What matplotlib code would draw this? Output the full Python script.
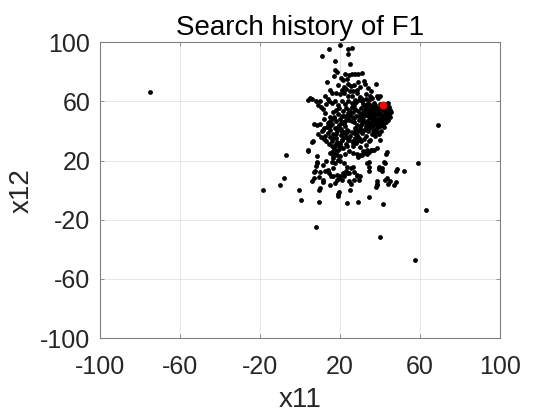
import numpy as np
import matplotlib
matplotlib.use("Agg")
import matplotlib.pyplot as plt

plt.rcParams['font.family'] = ['Liberation Sans', 'DejaVu Sans']
plt.rcParams['axes.unicode_minus'] = False

# --- data (x11, x12) ---
outlier_pts = [
    (-75, 66.5), (68.8, 44), (58.8, 18.7), (63, -13.5), (57.7, -47.5), (40, -31.5),
    (8.2, -25), (-18.6, 0), (-9.8, 3.8), (-8.2, 8.4), (-6.8, 23.5), (-0.3, 0),
    (0.4, -6.5), (9.4, -7.7), (9.5, 0), (9.8, 1.8), (23.3, -9), (29, -7.7),
    (34.6, -4.5), (41.5, -9.5), (19, -2.5), (19.2, -4), (25, 0.2), (38, 2.2),
    (38.5, 4.5), (44, 4.5), (47, 3.8), (48, 13.3), (52, 13), (43, 24.5),
    (42.5, 18.3), (39.5, 14), (40.8, 14.8), (41.2, 12.8), (42.5, 7.2), (34.3, 13),
    (33.5, 18.5), (4, 26.5), (6, 32.3), (6.2, 6.5), (7.1, 12), (8, 16.5),
    (8.4, 19), (10, 12), (11.4, 5.2), (15, 3.6),
]

top_pts = [
    (20, 98.5), (14.5, 95.5), (11, 91), (24, 95.5), (26, 96.5), (24, 92),
    (17.5, 87.5), (25, 85.5), (17.5, 81), (18.5, 80), (17, 77), (22.5, 78.5),
    (24.5, 78), (26, 78.5), (27.5, 78.5), (29, 78.5), (31, 79), (13.5, 73.5),
    (20.5, 76), (21.5, 74.5), (23.5, 75), (32, 74), (32.5, 71.5), (34, 69),
    (38, 71.5), (24, 72), (25.5, 70.5), (22, 70), (26.5, 67), (28.5, 68),
    (15, 68), (16, 66), (18, 65.5), (20, 65), (22, 66), (24, 64), (26, 63.5),
    (28.5, 66), (30, 63), (31, 62), (35, 64), (36, 62.5), (33, 65), (38.5, 64),
    (39, 62.5), (40, 63.5), (19, 71), (21, 68), (27, 71), (30, 70), (12.5, 64),
    (14, 62), (35.5, 67), (29, 73), (23, 68.5), (25, 67),
]

upper_left_pts = [
    (3.8, 61), (4.8, 62.5), (6.2, 61.8), (8.1, 60.5), (9.9, 60.1), (10.6, 56.2),
    (9.2, 57.5), (11.6, 55), (12.3, 52.3), (13.2, 58.1), (14.6, 60.2), (16.2, 58.7),
    (17.6, 60.6), (19.1, 57.3), (20.9, 60.2), (22.4, 58.6), (24.1, 60.4),
    (25.8, 58.9), (27.3, 61.2), (30.8, 60.5), (32.9, 61.4), (34.4, 60.8),
]

blob_pts = [
    (28.5, 44.2), (29.3, 47.8), (29.8, 51.5), (30.2, 42.1), (30.6, 55.3), (31.1, 45.6),
    (31.5, 49.2), (31.9, 53.4), (32.2, 40.8), (32.6, 57.1), (33.0, 43.7), (33.4, 47.0),
    (33.7, 50.6), (34.1, 54.8), (34.5, 41.9), (34.8, 45.3), (35.2, 48.7), (35.5, 52.2),
    (35.9, 56.4), (36.2, 43.4), (36.6, 46.5), (37.0, 50.1), (37.3, 53.6), (37.7, 57.8),
    (38.0, 41.2), (38.4, 44.9), (38.8, 48.3), (39.1, 51.7), (39.5, 55.2), (39.8, 58.3),
    (40.2, 43.1), (40.6, 46.8), (40.9, 50.2), (41.3, 53.9), (41.6, 56.7), (42.0, 45.1),
    (42.4, 48.6), (42.7, 52.0), (43.1, 55.5), (43.5, 50.7), (43.9, 53.3), (44.3, 56.2),
    (44.6, 51.8), (36.8, 59.3), (34.0, 58.6), (31.4, 58.0), (38.6, 39.5), (35.8, 38.2),
    (33.2, 36.9), (40.4, 40.3), (41.9, 42.4), (29.0, 40.1), (30.8, 38.5), (37.4, 36.4),
    (39.6, 37.9), (32.0, 46.2), (33.8, 52.9), (35.0, 50.4), (36.4, 55.0), (37.9, 47.2),
    (38.9, 53.0), (39.9, 49.0), (41.1, 47.6), (42.5, 54.6), (34.7, 43.8), (36.9, 44.0),
    (30.0, 49.8), (31.0, 52.1), (32.9, 55.9), (35.3, 54.1), (37.2, 51.6), (40.0, 52.4),
    (41.8, 51.0), (43.3, 57.2), (44.9, 54.2), (45.2, 49.3), (42.9, 46.1), (28.9, 53.7),
    (27.8, 50.3), (27.2, 46.4), (26.5, 53.0), (26.9, 57.4), (28.1, 59.6), (29.6, 61.0),
    (27.5, 42.0), (30.4, 44.0), (31.7, 47.4), (32.4, 51.0), (33.6, 45.2), (34.4, 49.5),
    (35.6, 46.0), (36.0, 51.2), (36.7, 48.4), (37.6, 45.6), (38.2, 50.6), (38.7, 55.9),
    (39.3, 46.3), (39.7, 44.1), (40.4, 54.8), (41.0, 44.5), (41.5, 49.0), (42.2, 50.4),
    (43.0, 48.8), (43.7, 51.9), (44.1, 47.6), (45.5, 52.8), (30.9, 40.2), (32.8, 42.2),
    (34.2, 39.8), (36.3, 41.0), (37.1, 39.2), (39.0, 42.5), (33.3, 58.1), (35.1, 57.3),
    (38.1, 56.5), (40.7, 57.9), (42.8, 58.4), (44.0, 58.9),
]

center_pts = [
    (15.2, 40.5), (15.8, 44.6), (16.3, 37.9), (16.9, 49.8), (17.4, 42.3), (17.8, 46.7),
    (18.2, 35.6), (18.7, 39.8), (19.1, 51.2), (19.5, 44.1), (19.9, 48.2), (20.3, 37.3),
    (20.7, 41.6), (21.1, 33.9), (21.5, 46.0), (21.9, 50.4), (22.2, 39.1), (22.6, 43.5),
    (23.0, 36.2), (23.4, 48.6), (23.8, 52.3), (24.2, 39.9), (24.6, 47.4), (25.0, 36.7),
    (25.4, 50.1), (25.8, 39.4), (26.2, 46.9), (26.6, 33.2), (27.0, 38.6), (27.4, 35.4),
    (22.9, 31.2), (24.1, 33.8), (20.0, 30.8), (18.6, 32.9), (17.3, 30.1), (16.1, 33.4),
    (14.8, 35.9), (13.9, 38.7), (13.3, 42.9), (14.3, 46.3), (15.1, 49.5), (16.6, 52.6),
    (18.0, 54.1), (19.7, 55.4), (21.3, 53.5), (23.1, 55.9), (24.7, 54.4), (26.0, 56.2),
    (28.3, 37.2), (29.4, 35.0), (30.5, 33.1), (31.8, 34.9), (28.0, 31.6), (29.9, 29.5),
    (26.4, 30.0), (21.7, 28.8), (19.3, 27.6), (12.6, 36.8), (11.4, 40.9), (10.2, 44.5),
    (8.6, 44.0), (6.9, 44.7), (9.1, 38.3), (12.0, 48.4), (27.7, 55.0), (22.0, 44.8),
    (27.9, 40.6), (10.5, 36.3), (11.9, 34.5), (13.1, 33), (14.4, 31.4), (15.8, 29.6),
    (17.2, 27.8), (18.4, 26.2), (17.5, 24.6), (16.7, 22.8), (19.3, 29.6), (20.2, 31.8),
    (21, 34), (21.9, 36.3), (22.8, 38.6), (23.7, 40.9), (10.8, 39.7), (12.2, 42),
    (14.9, 43.6), (14, 45.4), (15.4, 47.6), (17.2, 48.8), (6.3, 33.3), (4.2, 27.5),
    (19.0, 42.6), (20.4, 45.3), (21.2, 39.6), (18.0, 38.1), (16.6, 35.0), (20.9, 50.0),
    (22.7, 47.0), (24.0, 50.9), (26.8, 49.0), (25.1, 52.8), (16.0, 26.0), (17.9, 31.5),
]

lower_pts = [
    (13.1, 19.4), (14.9, 25), (16.7, 21.7), (18.4, 23.9), (20.2, 22.8), (22.5, 24.4),
    (24.6, 26.2), (26.3, 25), (23.7, 29.6), (28.5, 24.6), (29.9, 23.9), (31.6, 26.2),
    (32.5, 25), (33.4, 27.3), (34.4, 25.5), (35.5, 27.3), (36.9, 26.9), (33, 30.7),
    (34.3, 33), (28.5, 33), (29.9, 34), (26.3, 31.8), (24.6, 34), (11.4, 17.2),
    (15.8, 19), (17.5, 18.3), (18.9, 20.5), (20.2, 19.4), (21.9, 18.3), (23.7, 16),
    (27.2, 12.6), (25.5, 14.9), (8.3, 23.1), (8.7, 18.6), (7.5, 13.3), (7, 8.2),
    (9.7, 8.6), (12.5, 13.3), (11.3, 6.8), (15.5, 9.6), (14.5, 11.5), (14, 13.8),
    (16.7, 15), (18.4, 7), (17.5, 4.7), (19.3, 8), (21, 7), (22, 9.5), (23.7, 11.5),
    (24.6, 5.9), (27.2, 7), (28.5, 9.7), (29.5, 7), (43.3, 25.5), (42.2, 18.8),
    (39.7, 15.9), (34.7, 19.3), (34.3, 15.9), (29.2, 22.6), (30.8, 23.7), (33.3, 24.8),
    (35.8, 27.1), (38.3, 28.2), (40, 33.7), (35, 33.7), (48.3, 14.4), (48, 5.3),
    (45, 6), (43.3, 8.2), (38.3, 6.4), (38.7, 3.5), (25.3, 4.4), (28.3, 10.4),
    (30, 9.7), (26.7, 15.9), (24.7, 11.5), (23, 13.3), (21.7, 11.5), (20, 9.3),
    (18.3, 10.4), (16.7, 9.3), (19.7, -1.4),
]

best_pt = (41.4, 57.4)

ticks = [-100, -60, -20, 20, 60, 100]

all_pts = outlier_pts + top_pts + upper_left_pts + blob_pts + center_pts + lower_pts
xs = [p[0] for p in all_pts]
ys = [p[1] for p in all_pts]

fig = plt.figure(figsize=(5.54, 4.15), dpi=100)
ax = fig.add_axes([0.1805, 0.1855, 0.722, 0.7125])

ax.scatter(xs, ys, s=12, c='black', linewidths=0, zorder=3)
ax.scatter([best_pt[0]], [best_pt[1]], s=32, c='red', linewidths=0, zorder=4)

ax.set_xlim(-100, 100)
ax.set_ylim(-100, 100)
ax.set_xticks(ticks)
ax.set_yticks(ticks)
ax.grid(True, color='#e3e3e3', linewidth=0.6, zorder=0)
ax.set_axisbelow(True)

txt = '#262626'
ax.tick_params(direction='in', length=3, width=0.6, color='#808080',
               labelsize=18, labelcolor=txt, top=True, right=True)
ax.tick_params(axis='x', pad=12)
ax.tick_params(axis='y', pad=7)
for sp in ax.spines.values():
    sp.set_color('#808080')
    sp.set_linewidth(0.8)

ax.set_title('Search history of F1', fontsize=20, color='black', pad=5)
ax.set_xlabel('x11', fontsize=20, color=txt, labelpad=6)
ax.set_ylabel('x12', fontsize=20, color=txt, labelpad=4)

fig.savefig('out.png', dpi=100)
